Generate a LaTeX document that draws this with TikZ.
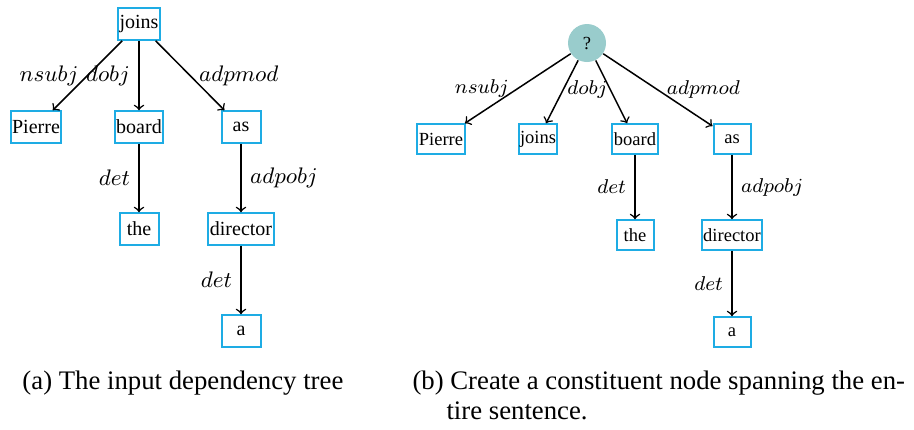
\documentclass[tikz,border=0pt]{standalone}
\usepackage{fontspec}
\setmainfont{Liberation Serif}
\definecolor{boxblue}{RGB}{30,172,228}
\begin{document}
\begin{tikzpicture}[x=0.4pt,y=-0.4pt,
  word/.style={draw=boxblue, line width=0.8pt, font=\fontsize{8}{9}\selectfont,
    minimum height=12.6pt, minimum width=15.6pt, inner xsep=0.6pt, inner ysep=0pt},
  wordb/.style={word, font=\fontsize{7.4}{9}\selectfont,
    minimum height=11.8pt, minimum width=14.8pt},
  root/.style={circle, fill=teal!40, minimum size=15.2pt, inner sep=0pt,
    font=\fontsize{7.4}{9}\selectfont},
  dep/.style={->, line width=0.6pt},
  rel/.style={font=\fontsize{8.7}{10}\selectfont},
  relb/.style={font=\fontsize{8.5}{10}\selectfont},
  captext/.style={font=\fontsize{10.7}{12.8}\selectfont, anchor=base west, inner sep=0pt}]
\useasboundingbox (0,0) rectangle (914,429);

% (a) input dependency tree
\node[word] (j)   at (139,24)  {joins};
\node[word] (p)   at (36,127)  {Pierre};
\node[word] (b)   at (139,127) {board};
\node[word] (as)  at (241,127) {as};
\node[word] (the) at (139,229) {the};
\node[word] (dir) at (241,229) {director};
\node[word] (a)   at (241,331) {a};

\draw[dep] (j) -- node[rel,left] {$nsubj$} (p);
\draw[dep] (j) -- node[rel,left] {$dobj$} (b);
\draw[dep] (j) -- node[rel,right] {$adpmod$} (as);
\draw[dep] (b) -- node[rel,left] {$det$} (the);
\draw[dep] (as) -- node[rel,right] {$adpobj$} (dir);
\draw[dep] (dir) -- node[rel,left] {$det$} (a);

% (b) new constituent node over the sentence
\node[root] (q) at (587,43) {?};
\node[wordb] (p2)   at (441,139) {Pierre};
\node[wordb] (j2)   at (538,139) {joins};
\node[wordb] (b2)   at (635,139) {board};
\node[wordb] (as2)  at (732,139) {as};
\node[wordb] (the2) at (635,235) {the};
\node[wordb] (dir2) at (732,235) {director};
\node[wordb] (a2)   at (732,332) {a};

\draw[dep] (q) -- node[relb,left] {$nsubj$} (p2);
\draw[dep] (q) -- node[relb,right,xshift=-1.5pt,yshift=1pt] {$dobj$} (j2);
\draw[dep] (q) -- (b2);
\draw[dep] (q) -- node[relb,right] {$adpmod$} (as2);
\draw[dep] (b2) -- node[relb,left] {$det$} (the2);
\draw[dep] (as2) -- node[relb,right] {$adpobj$} (dir2);
\draw[dep] (dir2) -- node[relb,left] {$det$} (a2);

% captions
\node[captext] (capa)  at (22,389)  {(a) The input dependency tree};
\node[captext] (capb1) at (412,389) {(b) Create a constituent node spanning the en-};
\node[captext] (capb2) at (446,419) {tire sentence.};
\end{tikzpicture}
\end{document}
